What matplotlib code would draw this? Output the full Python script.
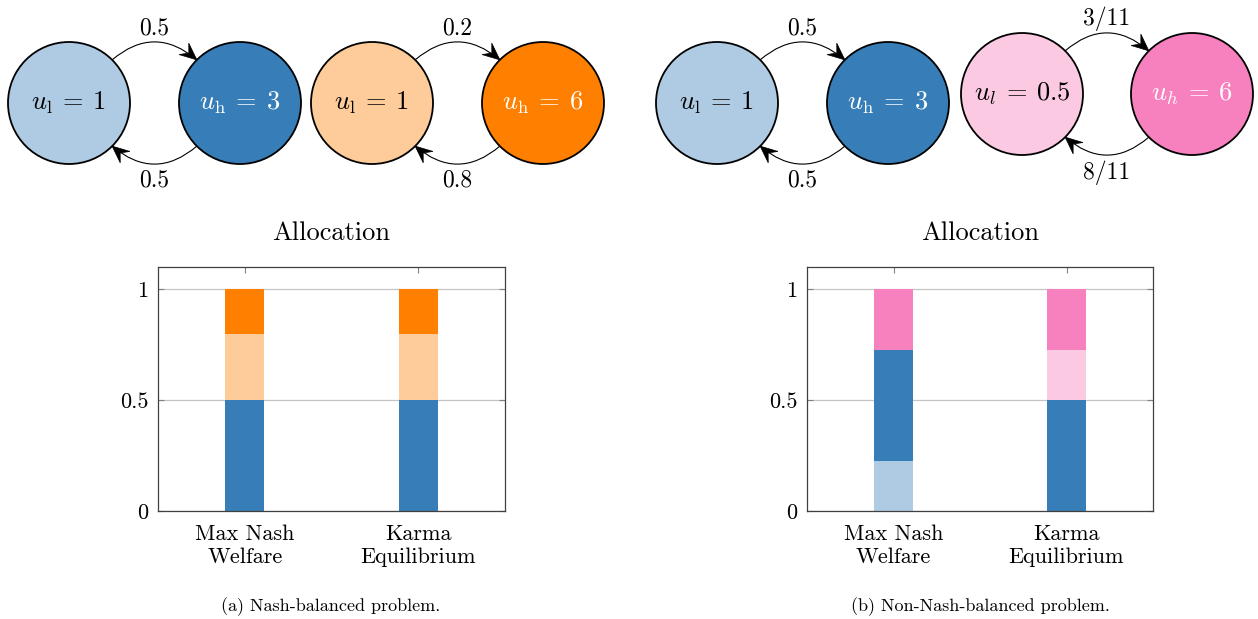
import numpy as np
import matplotlib
matplotlib.use("Agg")
import matplotlib.pyplot as plt
from matplotlib.patches import Circle, Polygon, PathPatch
from matplotlib.path import Path

plt.rcParams['font.family'] = ['cmr10', 'DejaVu Serif']
plt.rcParams['mathtext.fontset'] = 'cm'
plt.rcParams['axes.formatter.use_mathtext'] = True

# ---------------- data ----------------
categories = ["Max Nash\nWelfare", "Karma\nEquilibrium"]
yticks = [0, 0.5, 1]
ytick_labels = ["0", "0.5", "1"]

# panel (a): Nash-balanced problem
a_blue_low = [0.0, 0.0]
a_blue_high = [0.5, 0.5]
a_other_low = [0.3, 0.3]
a_other_high = [0.2, 0.2]

# panel (b): Non-Nash-balanced problem
b_blue_low = [0.227, 0.0]
b_blue_high = [0.5, 0.5]
b_other_low = [0.0, 0.227]
b_other_high = [0.273, 0.273]

# state diagrams: (label low, label high, prob low->high, prob high->low)
a_agent1 = [r"$u_\mathrm{l}\:=\:1$", r"$u_\mathrm{h}\:=\:3$", "0.5", "0.5"]
a_agent2 = [r"$u_\mathrm{l}\:=\:1$", r"$u_\mathrm{h}\:=\:6$", "0.2", "0.8"]
b_agent1 = [r"$u_\mathrm{l}\:=\:1$", r"$u_\mathrm{h}\:=\:3$", "0.5", "0.5"]
b_agent2 = [r"$u_l\:=\:0.5$", r"$u_h\:=\:6$", "3/11", "8/11"]

titles = ["Allocation", "Allocation"]
captions = ["(a) Nash-balanced problem.", "(b) Non-Nash-balanced problem."]

# ---------------- colours ----------------
LBLUE = "#afcbe3"
DBLUE = "#377eb8"
LORANGE = "#fecb9a"
DORANGE = "#ff7f00"
LPINK = "#fcc9e3"
DPINK = "#f781bf"

W, H = 1258, 619
fig = plt.figure(figsize=(W / 100, H / 100), dpi=100)

# overlay axes in pixel units for diagrams and free text
ov = fig.add_axes([0, 0, 1, 1])
ov.set_xlim(0, W)
ov.set_ylim(H, 0)
ov.axis('off')

R = 61


def stealth(ax, tip, direction, L=17, Wd=7.5):
    d = np.asarray(direction, float)
    d = d / np.linalg.norm(d)
    n = np.array([-d[1], d[0]])
    tip = np.asarray(tip, float)
    back = tip - L * d
    p1 = back + Wd * n
    p2 = back - Wd * n
    notch = tip - 0.62 * L * d
    ax.add_patch(Polygon([tip, p1, notch, p2], closed=True, fc='black',
                         ec='black', lw=0.5, zorder=5))
    return notch


def arc_arrow(ax, p0, p1, bulge):
    p0 = np.asarray(p0, float)
    p1 = np.asarray(p1, float)
    mid = (p0 + p1) / 2
    d = p1 - p0
    n = np.array([d[1], -d[0]]) / np.linalg.norm(d)
    ctrl = mid + n * bulge * 2
    stealth(ax, p1, p1 - ctrl)
    path = Path([p0, ctrl, p1], [Path.MOVETO, Path.CURVE3, Path.CURVE3])
    ax.add_patch(PathPatch(path, fc='none', ec='black', lw=0.8, zorder=4))
    peak = mid + n * bulge
    return peak


def diagram(ax, c1, c2, col1, col2, spec, tc2):
    lab1, lab2, p12, p21 = spec
    for c, col, lab, tc in [(c1, col1, lab1, 'black'), (c2, col2, lab2, tc2)]:
        ax.add_patch(Circle(c, R, fc=col, ec='black', lw=1.3, zorder=3))
        ax.text(c[0], c[1], lab, ha='center', va='center', fontsize=19,
                color=tc, zorder=6)
    a = np.deg2rad(45)
    # top arrow: c1 upper right -> c2 upper left (y axis points down)
    s = (c1[0] + R * np.cos(a), c1[1] - R * np.sin(a))
    e = (c2[0] - R * np.cos(a), c2[1] - R * np.sin(a))
    peak = arc_arrow(ax, s, e, 18)
    ax.text(peak[0], peak[1] - 2, p12, ha='center', va='bottom', fontsize=17)
    # bottom arrow: c2 lower left -> c1 lower right
    s = (c2[0] - R * np.cos(a), c2[1] + R * np.sin(a))
    e = (c1[0] + R * np.cos(a), c1[1] + R * np.sin(a))
    peak = arc_arrow(ax, s, e, 18)
    ax.text(peak[0], peak[1] + 5, p21, ha='center', va='top', fontsize=17)


diagram(ov, (69, 103), (240, 103), LBLUE, DBLUE, a_agent1, 'white')
diagram(ov, (372, 103), (543, 103), LORANGE, DORANGE, a_agent2, 'white')
diagram(ov, (717, 103), (888, 103), LBLUE, DBLUE, b_agent1, 'white')
diagram(ov, (1022, 94), (1192, 94), LPINK, DPINK, b_agent2, 'white')


def bars(rect, series, colors, title, caption, cx):
    ax = fig.add_axes(rect)
    x = np.arange(len(categories))
    bottom = np.zeros(len(categories))
    for vals, col in zip(series, colors):
        ax.bar(x, vals, width=0.225, bottom=bottom, color=col, lw=0, zorder=2)
        bottom = bottom + np.asarray(vals)
    ax.set_xlim(-0.5, 1.5)
    ax.set_ylim(0, 1.1)
    ax.set_xticks(x)
    ax.set_xticklabels(categories, fontsize=16, linespacing=1.2)
    ax.set_yticks(yticks)
    ax.set_yticklabels(ytick_labels, fontsize=16)
    ax.yaxis.grid(True, color='#c4c4c4', lw=0.9, zorder=1)
    ax.set_axisbelow(True)
    ax.tick_params(direction='in', top=True, right=True, length=4,
                   color='#808080', width=0.8, pad=7)
    ax.tick_params(axis='x', pad=10)
    for sp in ax.spines.values():
        sp.set_color('#404040')
        sp.set_linewidth(0.9)
    ov.text(cx, 233, title, ha='center', va='center', fontsize=19)
    ov.text(cx, 607, caption, ha='center', va='center', fontsize=13)
    return ax


bars([158 / W, 1 - 511 / H, 347 / W, 244 / H],
     [a_blue_low, a_blue_high, a_other_low, a_other_high],
     [LBLUE, DBLUE, LORANGE, DORANGE], titles[0], captions[0], 331)
bars([807 / W, 1 - 511 / H, 346 / W, 244 / H],
     [b_blue_low, b_blue_high, b_other_low, b_other_high],
     [LBLUE, DBLUE, LPINK, DPINK], titles[1], captions[1], 980)

fig.savefig("out.png", dpi=100)
